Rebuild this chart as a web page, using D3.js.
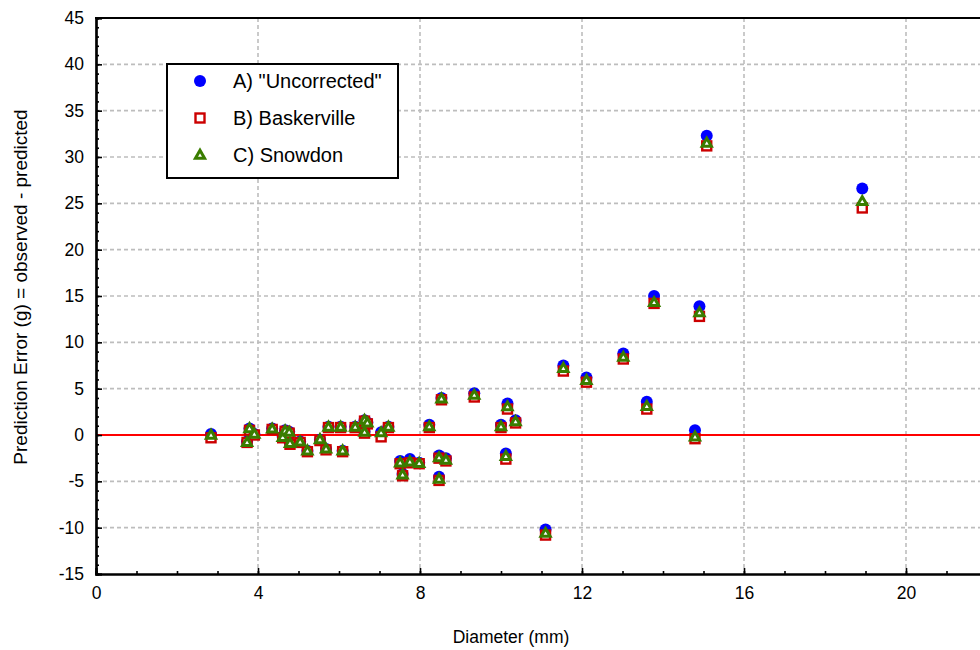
<!DOCTYPE html>
<html><head><meta charset="utf-8">
<script src="https://cdn.jsdelivr.net/npm/d3@7"></script>
<style>body{margin:0;background:#fff;}svg{display:block;font-family:"Liberation Sans",Arial,sans-serif;}</style>
</head><body>
<svg id="c" width="980" height="650"></svg>
<script>
const diameter = [2.84,3.73,3.79,3.91,4.35,4.61,4.67,4.77,4.79,5.04,5.22,5.53,5.68,5.74,6.04,6.09,6.40,6.63,6.70,6.63,7.04,7.22,7.51,7.57,7.75,7.98,8.23,8.47,8.64,8.47,8.53,9.34,10.00,10.12,10.16,10.36,11.10,11.54,12.11,13.02,13.60,13.78,14.79,14.90,15.08,18.92];
const uncorrected = [0.1,-0.7,0.7,0.1,0.7,-0.2,0.5,0.35,-0.9,-0.7,-1.7,-0.5,-1.5,0.9,0.9,-1.7,0.9,1.6,1.35,0.35,0.3,0.9,-2.8,-4.2,-2.6,-3.0,1.1,-2.2,-2.5,-4.5,4.0,4.5,1.1,-2.0,3.4,1.6,-10.2,7.5,6.2,8.8,3.6,15.0,0.5,13.9,32.3,26.6];
const baskerville = [-0.3,-0.8,0.5,0.0,0.6,-0.3,0.4,0.2,-1.0,-0.8,-1.8,-0.6,-1.6,0.8,0.8,-1.8,0.8,1.5,1.2,0.2,-0.2,0.8,-3.1,-4.4,-3.0,-3.1,0.8,-2.5,-2.8,-4.9,3.8,4.1,0.8,-2.6,2.8,1.3,-10.8,6.9,5.7,8.2,2.8,14.2,-0.4,12.8,31.2,24.5];
const snowdon = [0.0,-0.8,0.7,0.1,0.65,-0.25,0.45,0.3,-0.9,-0.75,-1.7,-0.5,-1.5,0.85,0.85,-1.7,0.85,1.6,1.3,0.3,0.25,0.85,-3.0,-4.3,-2.9,-3.05,0.9,-2.45,-2.7,-4.75,3.9,4.3,0.9,-2.3,3.05,1.45,-10.6,7.2,5.9,8.4,3.1,14.3,-0.2,13.2,31.5,25.2];
const xTicks = [0,4,8,12,16,20];
const yTicks = [-15,-10,-5,0,5,10,15,20,25,30,35,40,45];
const seriesNames = ['A) "Uncorrected"','B) Baskerville','C) Snowdon'];

const svg = d3.select("#c");
const x = d3.scaleLinear().domain([0,22]).range([96,987]);
const y = d3.scaleLinear().domain([-15,45]).range([574,18]);

// grid
const grid = svg.append("g");
grid.selectAll("line.gx").data(xTicks.filter(d=>d>0)).join("line")
  .attr("x1",d=>x(d)).attr("x2",d=>x(d)).attr("y1",y(45)).attr("y2",y(-15))
  .attr("stroke","#bdbdbd").attr("stroke-width",1.6).attr("stroke-dasharray","4,3");
grid.selectAll("line.gy").data(yTicks.filter(d=>d>-15&&d<45&&d!==0)).join("line")
  .attr("x1",x(0)).attr("x2",980).attr("y1",d=>y(d)).attr("y2",d=>y(d))
  .attr("stroke","#bdbdbd").attr("stroke-width",1.6).attr("stroke-dasharray","4,3");
// zero line
svg.append("line").attr("x1",x(0)).attr("x2",980).attr("y1",y(0)).attr("y2",y(0))
  .attr("stroke","#ff0000").attr("stroke-width",2);

// axes
const fmt = d => String(d);
const xAxis = d3.axisBottom(x).tickValues(xTicks).tickSize(-6).tickPadding(13).tickFormat(fmt);
const xMinor = d3.axisBottom(x).tickValues(d3.range(0,23,1)).tickSize(-3).tickFormat("");
const yAxis = d3.axisLeft(y).tickValues(yTicks).tickSize(-6).tickPadding(12).tickFormat(fmt);
const yMinor = d3.axisLeft(y).tickValues(d3.range(-15,46,1)).tickSize(-3).tickFormat("");

function styleAxis(g){
  g.select(".domain").attr("stroke","#000").attr("stroke-width",2.2);
  g.selectAll(".tick line").attr("stroke","#000").attr("stroke-width",1.6);
  g.selectAll(".tick text").attr("font-size",17.5).attr("fill","#000").attr("font-family","'Liberation Sans',Arial,sans-serif");
}
svg.append("g").attr("transform",`translate(0,${y(-15)})`).call(xMinor).call(styleAxis);
svg.append("g").attr("transform",`translate(0,${y(-15)})`).call(xAxis).call(styleAxis);
svg.append("g").attr("transform",`translate(${x(0)},0)`).call(yMinor).call(styleAxis);
svg.append("g").attr("transform",`translate(${x(0)},0)`).call(yAxis).call(styleAxis);
// top border
svg.append("line").attr("x1",x(0)-1).attr("x2",980).attr("y1",y(45)).attr("y2",y(45)).attr("stroke","#000").attr("stroke-width",2.2);

// titles
svg.append("text").attr("x",511).attr("y",643).attr("text-anchor","middle").attr("font-size",17.5).text("Diameter (mm)");
svg.append("text").attr("transform","translate(27,287) rotate(-90)").attr("text-anchor","middle").attr("font-size",19).text("Prediction Error (g) = observed - predicted");

// markers
const tri = d3.symbol().type(d3.symbolTriangle).size(36);
function drawA(sel){ sel.append("circle").attr("r",6).attr("fill","#0000ff"); }
function drawB(sel){ sel.append("rect").attr("x",-4.5).attr("y",-4.5).attr("width",9).attr("height",9).attr("fill","#fff").attr("stroke","#cc0000").attr("stroke-width",2.4); }
function drawC(sel){ sel.append("path").attr("d",tri).attr("transform","translate(0,0.5)").attr("fill","#fff").attr("stroke","#3a7d00").attr("stroke-width",3); }

const pts = svg.append("g");
pts.selectAll("g.a").data(diameter).join("g").attr("class","a").attr("transform",(d,i)=>`translate(${x(d)},${y(uncorrected[i])})`).call(drawA);
pts.selectAll("g.b").data(diameter).join("g").attr("class","b").attr("transform",(d,i)=>`translate(${x(d)},${y(baskerville[i])})`).call(drawB);
pts.selectAll("g.c").data(diameter).join("g").attr("class","c").attr("transform",(d,i)=>`translate(${x(d)},${y(snowdon[i])})`).call(drawC);

// legend
const lg = svg.append("g");
lg.append("rect").attr("x",167).attr("y",64).attr("width",231).attr("height",114).attr("fill","#fff").attr("stroke","#000").attr("stroke-width",2);
const drawers=[drawA,drawB,drawC];
seriesNames.forEach((n,i)=>{
  const yy = 81 + i*37;
  lg.append("g").attr("transform",`translate(200,${yy})`).call(drawers[i]);
  lg.append("text").attr("x",233).attr("y",yy+7).attr("font-size",20).text(n);
});
</script>
</body></html>
